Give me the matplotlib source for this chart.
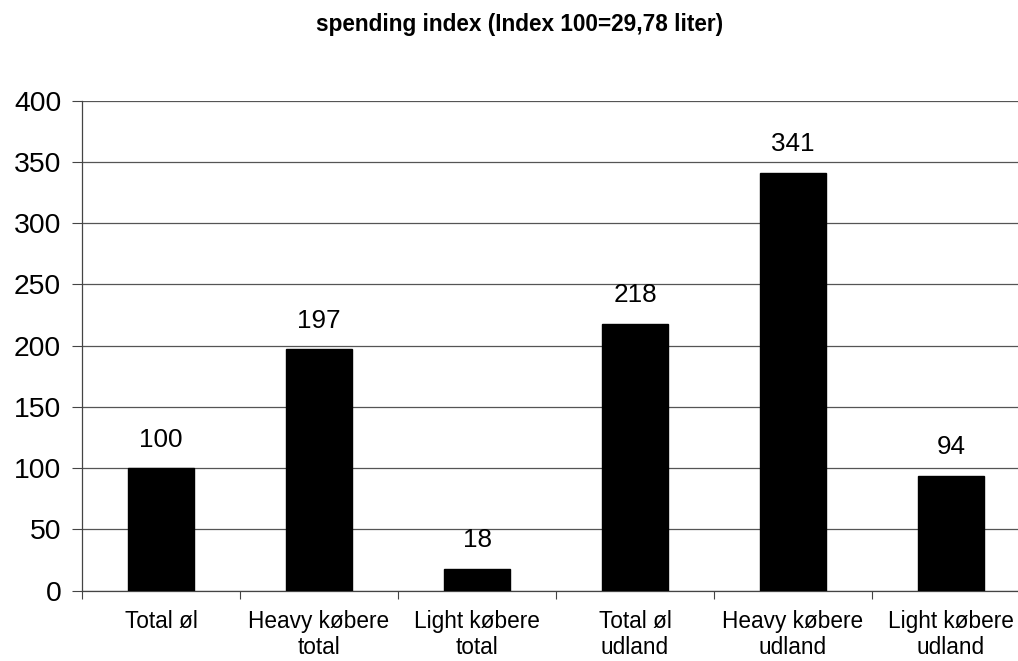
import numpy as np
import matplotlib.pyplot as plt

plt.rcParams['font.family'] = ['Liberation Sans', 'DejaVu Sans']

# data
categories = ["Total øl", "Heavy købere\ntotal", "Light købere\ntotal",
              "Total øl\nudland", "Heavy købere\nudland", "Light købere\nudland"]
values = [100, 197, 18, 218, 341, 94]
yticks = [0, 50, 100, 150, 200, 250, 300, 350, 400]

fig = plt.figure(figsize=(10.18, 6.61), dpi=100)
ax = fig.add_axes([0.0806, 0.1064, 0.9312, 0.7413])

x = np.arange(len(categories))
bars = ax.bar(x, values, width=0.415, color="black", edgecolor="black", zorder=3)

for xi, v in zip(x, values):
    ax.annotate(str(v), (xi, v), xytext=(0, 12), textcoords="offset points",
                ha="center", va="bottom", fontsize=18.8)

ax.set_xlim(-0.5, len(categories) - 0.5)
ax.set_ylim(0, 400)
ax.set_yticks(yticks)
ax.tick_params(axis="y", labelsize=20.4, length=7, width=0.8, pad=8, color="#444444")

# boundary ticks on x, labels at centres
ax.set_xticks(np.arange(len(categories) + 1) - 0.5)
ax.set_xticklabels([])
ax.tick_params(axis="x", which="major", length=6, width=0.8, color="#444444")
ax.set_xticks(x, minor=True)
ax.set_xticklabels(categories, minor=True, fontsize=16.3, linespacing=1.18)
ax.tick_params(axis="x", which="minor", length=0, pad=14)

ax.grid(axis="y", color="#555555", linewidth=0.9, zorder=0)
for s in ["top", "right"]:
    ax.spines[s].set_visible(False)
for s in ["left", "bottom"]:
    ax.spines[s].set_color("#444444")
    ax.spines[s].set_linewidth(0.9)

fig.text(519.5 / 1018, 1 - 25 / 661, "spending index (Index 100=29,78 liter)",
         ha="center", va="center", fontsize=16.3, fontweight="bold")

fig.savefig("out.png", dpi=100)
